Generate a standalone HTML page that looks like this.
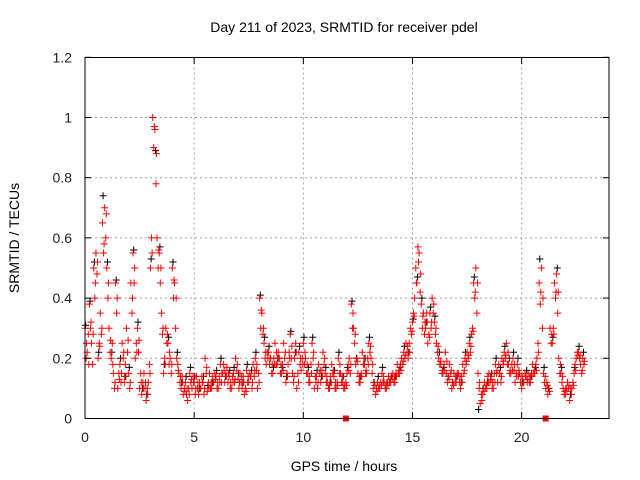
<!DOCTYPE html>
<html><head><meta charset="utf-8"><style>
body{margin:0;background:#fff}
svg{display:block;font-family:"Liberation Sans",sans-serif}
</style></head><body>
<svg id="chart" width="640" height="480" viewBox="0 0 640 480" xmlns="http://www.w3.org/2000/svg">
<rect width="640" height="480" fill="#fff"/>
<g id="grid"></g>
<g id="black"></g>
<g id="red"></g>
<rect x="85" y="57.5" width="524" height="361" fill="none" stroke="#000" stroke-width="1"/>
<g id="ticks"></g>
<text x="344" y="32" font-size="14" text-anchor="middle">Day 211 of 2023, SRMTID for receiver pdel</text>
<text x="344" y="471" font-size="14" text-anchor="middle">GPS time / hours</text>
<text transform="translate(19,238) rotate(-90)" font-size="14" text-anchor="middle">SRMTID / TECUs</text>
</svg>
<script>
const xTicks=[0,5,10,15,20];
const yTicks=[0,0.2,0.4,0.6,0.8,1,1.2];
const yTickLabels=["0","0.2","0.4","0.6","0.8","1","1.2"];
const redA=[.30,.22,.38,.25,.50,.55,.20,.35,.65,.70,.50,
.30,.20,.15,.45,.10,.18,.25,.12,.30,.15,
.45,.55,.20,.30,.10,.08,.15,.06,.12,.50,
1.0,.96,.60,.55,.35,.15,.30,.25,.20,.50,
.45,.20,.15,.10,.08,.12,.06,.15,.10,.12,
.14,.08,.10,.12,.20,.09,.15,.10,.12,.14,
.10,.18,.15,.12,.17,.14,.10,.15,.20,.13,
.15,.10,.08,.16,.12,.14,.18,.20,.10,.40,
.35,.25,.18,.22,.20,.15,.25,.18,.20,.15,
.25,.12,.18,.28,.15,.20,.10,.22,.16,.25,
.20,.15,.12,.25,.10,.14,.18,.12,.22,.15,
.12,.10,.18,.14,.10,.20,.15,.12,.10,.15,
.20,.38,.30,.18,.15,.12,.22,.18,.15,.25,
.20,.10,.08,.12,.10,.15,.12,.10,.14,.12,
.15,.12,.18,.15,.20,.22,.25,.20,.30,.32,
.40,.45,.55,.38,.35,.30,.25,.35,.40,.32,
.25,.20,.18,.15,.22,.12,.18,.10,.15,.12,
.15,.10,.18,.20,.22,.25,.28,.45,.50,.15,
.05,.08,.12,.10,.15,.13,.10,.18,.12,.15,
.20,.22,.25,.18,.15,.20,.12,.18,.15,.10,
.12,.14,.15,.12,.18,.15,.20,.45,.50,.15,
.10,.08,.30,.25,.45,.48,.20,.15,.10,.08,
.12,.06,.10,.15,.20,.22,.18,.20];
const redB=[.20,.28,.30,.18,.40,.48,.25,.28,.55,.60,.40,
.22,.25,.10,.35,.15,.12,.20,.18,.22,.10,
.35,.45,.25,.22,.15,.12,.10,.10,.18,.60,
.90,.78,.50,.45,.28,.20,.25,.18,.15,.40,
.30,.18,.12,.14,.10,.08,.10,.12,.14,.08,
.10,.12,.14,.08,.15,.12,.10,.14,.15,.10,
.14,.12,.18,.15,.12,.10,.14,.12,.16,.10,
.12,.14,.10,.12,.15,.10,.14,.16,.15,.30,
.28,.20,.22,.18,.15,.20,.18,.22,.15,.18,
.20,.15,.22,.20,.12,.25,.15,.18,.20,.18,
.15,.12,.18,.20,.14,.10,.15,.16,.18,.12,
.10,.14,.15,.10,.12,.15,.12,.10,.12,.18,
.15,.30,.25,.20,.12,.15,.18,.15,.20,.22,
.15,.12,.10,.10,.12,.12,.10,.12,.12,.14,
.12,.15,.15,.18,.18,.20,.22,.25,.28,.35,
.50,.57,.42,.30,.28,.35,.28,.30,.35,.28,
.22,.18,.15,.18,.15,.14,.15,.12,.12,.15,
.12,.14,.15,.18,.20,.22,.30,.40,.35,.10,
.08,.10,.10,.14,.12,.10,.15,.15,.18,.12,
.18,.20,.18,.15,.18,.16,.15,.14,.12,.14,
.15,.12,.12,.15,.15,.18,.25,.38,.30,.12,
.12,.10,.25,.30,.40,.35,.15,.12,.08,.10,
.10,.10,.12,.18,.22,.20,.15,.18];
const redC=[.25,.18,.32,.28,.45,.52,.24,.30,.58,.68,.45,
.26,.18,.12,.40,.13,.15,.22,.14,.26,.12,
.40,.50,.22,.26,.12,.10,.12,.08,.15,.55,
.97,.88,.56,.50,.30,.18,.28,.22,.18,.46,
.40,.16,.14,.12,.09,.10,.08,.13,.12,.10,
.12,.10,.12,.10,.17,.10,.12,.12,.13,.12,
.12,.15,.16,.14,.15,.12,.12,.13,.18,.12,
.14,.12,.09,.14,.14,.12,.16,.18,.12,.36,
.30,.22,.20,.20,.18,.18,.22,.20,.18,.16,
.22,.14,.20,.24,.14,.22,.12,.20,.18,.22,
.18,.14,.15,.22,.12,.12,.16,.14,.20,.14,
.11,.12,.16,.12,.11,.18,.14,.11,.11,.16,
.18,.35,.28,.19,.14,.14,.20,.16,.18,.24,
.18,.11,.09,.11,.11,.14,.11,.11,.13,.13,
.14,.14,.16,.16,.19,.21,.24,.22,.29,.34,
.45,.52,.48,.34,.32,.32,.27,.32,.38,.30,
.24,.19,.16,.16,.19,.13,.16,.11,.14,.14,
.14,.12,.16,.19,.21,.24,.29,.42,.45,.12,
.06,.09,.11,.12,.14,.12,.12,.16,.15,.14,
.19,.21,.22,.16,.16,.18,.14,.16,.14,.12,
.14,.13,.14,.14,.16,.16,.22,.42,.40,.14,
.11,.09,.28,.28,.42,.42,.18,.14,.09,.09,
.11,.08,.11,.16,.21,.21,.16,.19];
const blackC=[.31,.39,.52,.22,.74,.52,.22,.46,.20,.14,.17,.56,.32,.10,.08,.53,.89,.57,.18,.27,
.52,.22,.12,.14,.17,.14,.10,.14,.11,.12,.16,.20,.14,.16,.17,.15,.12,.18,.16,.22,
.41,.27,.24,.17,.20,.17,.14,.29,.22,.24,.27,.17,.27,.16,.14,.17,.12,.16,.22,.14,
.17,.39,.20,.14,.20,.27,.12,.14,.17,.12,.14,.14,.17,.24,.22,.33,.47,.40,.32,.37,
.34,.22,.17,.14,.12,.14,.12,.22,.27,.47,.03,.10,.12,.15,.20,.17,.24,.20,.22,.20,
.12,.16,.14,.17,.53,.17,.10,.27,.50,.17,.10,.08,.17,.24,.22];
const flags=[11.95,21.1];
const X0=85,XW=524/24,Y0=418.5,YH=301;
const sx=v=>X0+v*XW, sy=v=>Y0-v*YH;
const NS="http://www.w3.org/2000/svg";
function mk(tag,attrs,parent){const e=document.createElementNS(NS,tag);for(const k in attrs)e.setAttribute(k,attrs[k]);parent.appendChild(e);return e;}
const grid=document.getElementById('grid'),ticks=document.getElementById('ticks');
xTicks.forEach(t=>{
  const x=sx(t);
  if(t>0){const g=mk('line',{x1:x,x2:x,y1:57.5,y2:418.5,stroke:'#a0a0a0','stroke-dasharray':'2,3'},grid);
  
  }
  mk('line',{x1:x,x2:x,y1:418.5,y2:412,stroke:'#000'},ticks);
  mk('line',{x1:x,x2:x,y1:57.5,y2:64,stroke:'#000'},ticks);
  const l=mk('text',{x:x,y:442,'font-size':14,'text-anchor':'middle',fill:'#222'},ticks);
  l.textContent=t;
  
  
});
yTicks.forEach((t,i)=>{
  const y=sy(t);
  if(t>0&&t<1.2){const g=mk('line',{x1:85,x2:609,y1:y,y2:y,stroke:'#a0a0a0','stroke-dasharray':'2,3'},grid);
  
  }
  mk('line',{x1:85,x2:91,y1:y,y2:y,stroke:'#000'},ticks);
  mk('line',{x1:603,x2:609,y1:y,y2:y,stroke:'#000'},ticks);
  const l=mk('text',{x:72,y:y+5,'font-size':14,'text-anchor':'end',fill:'#222'},ticks);
  l.textContent=yTickLabels[i];
  
  
});
function plus(g,t,v,c){
  const x=sx(t),y=sy(v);
  const p=mk('path',{d:`M${x-3.5} ${y}h7M${x} ${y-3.5}v7`,stroke:c,'stroke-width':1,fill:'none'},g);
  
  
}
const bg=document.getElementById('black'),rg=document.getElementById('red');
blackC.forEach((v,i)=>plus(bg,i*0.2+0.03,v,'#000'));
redA.forEach((v,i)=>plus(rg,i*0.1,v,'#f00'));
redB.forEach((v,i)=>plus(rg,i*0.1+0.05,v,'#f00'));
redC.forEach((v,i)=>plus(rg,i*0.1+0.075,v,'#f00'));
flags.forEach(t=>{const r=mk('rect',{x:sx(t)-3,y:415.5,width:6,height:6,fill:'#f00'},rg);

});
</script>
</body></html>
